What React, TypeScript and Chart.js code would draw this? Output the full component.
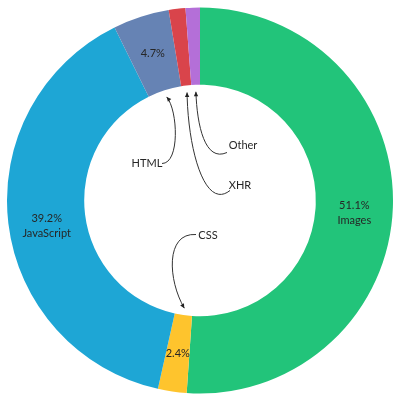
import { useEffect, useRef } from 'react';
import { Chart, registerables, Plugin } from 'chart.js';

Chart.register(...registerables);

// request mix by content type, share of total (%)
const categories = ['Images', 'CSS', 'JavaScript', 'HTML', 'XHR', 'Other'];
const shares = [51.1, 2.4, 39.2, 4.7, 1.4, 1.2];
const colors = ['#22c47a', '#fec42d', '#1ea6d5', '#6683b4', '#d9444b', '#b46fd8'];

// which slices get a label inside the ring, and whether it carries the name too
const inRingPct = [true, true, true, true, false, false];
const inRingName = [true, false, true, false, false, false];

// callouts drawn in the hole: text offset from centre, start of curve, two control points (also from centre)
const callouts: Record<string, { text: [number, number]; p0: [number, number]; c1: [number, number]; c2: [number, number] }> = {
  HTML: { text: [-53, -37], p0: [-38, -37], c1: [-20, -37], c2: [-22, -90] },
  XHR: { text: [40, -15], p0: [30, -10], c1: [5, 10], c2: [-12, -50] },
  Other: { text: [43, -55], p0: [27, -48], c1: [5, -38], c2: [-3, -75] },
  CSS: { text: [8, 35], p0: [-4, 34], c1: [-35, 32], c2: [-32, 80] },
};

const FONT = '11px Lato, "DejaVu Sans", sans-serif';
const TEXT = '#262626';

const labelPlugin: Plugin<'doughnut'> = {
  id: 'sliceLabels',
  afterDatasetsDraw(chart) {
    const ctx = chart.ctx;
    const arcs = chart.getDatasetMeta(0).data as any[];
    ctx.save();
    ctx.font = FONT;
    ctx.fillStyle = TEXT;
    ctx.textAlign = 'center';
    ctx.textBaseline = 'middle';

    arcs.forEach((arc, i) => {
      const { x, y, startAngle, endAngle, innerRadius, outerRadius } = arc.getProps(
        ['x', 'y', 'startAngle', 'endAngle', 'innerRadius', 'outerRadius'],
        true
      );
      const mid = (startAngle + endAngle) / 2;

      if (inRingPct[i]) {
        const r = (innerRadius + outerRadius) / 2;
        const lx = x + Math.cos(mid) * r;
        const ly = y + Math.sin(mid) * r;
        ctx.fillText(`${shares[i].toFixed(1)}%`, lx, ly);
        if (inRingName[i]) ctx.fillText(categories[i], lx, ly + 15);
      }

      const co = callouts[categories[i]];
      if (!co) return;
      const tipR = innerRadius - 7;
      const tx = x + Math.cos(mid) * tipR;
      const ty = y + Math.sin(mid) * tipR;

      ctx.fillText(categories[i], x + co.text[0], y + co.text[1]);

      ctx.strokeStyle = '#333';
      ctx.lineWidth = 1;
      ctx.beginPath();
      ctx.moveTo(x + co.p0[0], y + co.p0[1]);
      ctx.bezierCurveTo(x + co.c1[0], y + co.c1[1], x + co.c2[0], y + co.c2[1], tx, ty);
      ctx.stroke();

      // arrow head along the last tangent
      const ang = Math.atan2(ty - (y + co.c2[1]), tx - (x + co.c2[0]));
      const len = 5;
      ctx.fillStyle = '#222';
      ctx.beginPath();
      ctx.moveTo(tx, ty);
      ctx.lineTo(tx - len * Math.cos(ang - 0.45), ty - len * Math.sin(ang - 0.45));
      ctx.lineTo(tx - len * Math.cos(ang + 0.45), ty - len * Math.sin(ang + 0.45));
      ctx.closePath();
      ctx.fill();
      ctx.fillStyle = TEXT;
    });
    ctx.restore();
  },
};

export default function App() {
  const canvasRef = useRef<HTMLCanvasElement | null>(null);
  const chartRef = useRef<Chart | null>(null);

  useEffect(() => {
    const ctx = canvasRef.current!.getContext('2d')!;

    if (chartRef.current) {
      chartRef.current.destroy();
      chartRef.current = null;
    }

    chartRef.current = new Chart(ctx, {
      type: 'doughnut',
      data: {
        labels: categories,
        datasets: [
          {
            data: shares,
            backgroundColor: colors,
            borderWidth: 0,
            hoverOffset: 0,
          },
        ],
      },
      options: {
        responsive: true,
        maintainAspectRatio: false,
        animation: false,
        cutout: '60%',
        layout: { padding: 7 },
        plugins: {
          legend: { display: false },
          tooltip: { enabled: false },
        },
      },
      plugins: [labelPlugin],
    });

    return () => {
      if (chartRef.current) {
        chartRef.current.destroy();
        chartRef.current = null;
      }
    };
  }, []);

  return (
    <div style={{ position: 'absolute', left: 0, top: 0, width: 400, height: 401, background: '#fff' }}>
      <canvas ref={canvasRef} />
    </div>
  );
}
